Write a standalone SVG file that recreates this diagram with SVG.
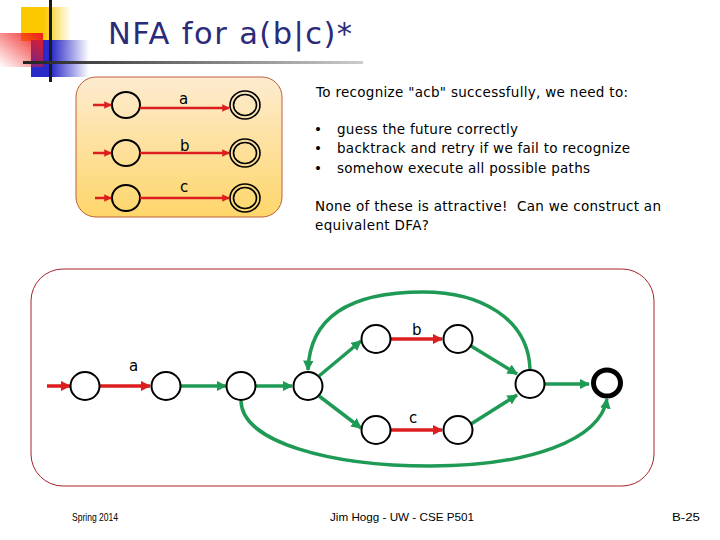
<svg xmlns="http://www.w3.org/2000/svg" width="720" height="540" viewBox="0 0 720 540">
<defs>
<style>
.st{fill:none;stroke:#000;stroke-width:2}
.fin{fill:none;stroke:#000;stroke-width:5}
.r{fill:none;stroke:#dd1e1e;stroke-width:3.5}
.g{fill:none;stroke:#1f9a55;stroke-width:3.5}
.lbl{font-family:"DejaVu Sans",Verdana,sans-serif;font-size:15px;fill:#000}
.tx{font-family:"DejaVu Sans",Verdana,sans-serif;font-size:13.5px;fill:#000}
.ft{font-family:"Liberation Sans",Arial,sans-serif;font-size:11px;fill:#000}
</style>
<marker id="ar" viewBox="0 0 10 10" refX="9" refY="5" markerWidth="3" markerHeight="3" orient="auto"><path d="M0,0 L10,5 L0,10 z" fill="#dd1e1e"/></marker>
<marker id="ag" viewBox="0 0 10 10" refX="9" refY="5" markerWidth="3" markerHeight="3" orient="auto"><path d="M0,0 L10,5 L0,10 z" fill="#1f9a55"/></marker>
<linearGradient id="yel" x1="0" y1="0" x2="1" y2="0"><stop offset="0.45" stop-color="#fcc800"/><stop offset="1" stop-color="#fcc800" stop-opacity="0"/></linearGradient>
<linearGradient id="blu" x1="0" y1="0" x2="1" y2="0"><stop offset="0.35" stop-color="#2a2ac8"/><stop offset="1" stop-color="#2a2ac8" stop-opacity="0"/></linearGradient>
<linearGradient id="red" x1="1" y1="0" x2="0" y2="1"><stop offset="0" stop-color="#f01c1c"/><stop offset="1" stop-color="#f01c1c" stop-opacity="0"/></linearGradient>
<linearGradient id="hl" x1="0" y1="0" x2="1" y2="0"><stop offset="0" stop-color="#222"/><stop offset="1" stop-color="#ccc"/></linearGradient>
<linearGradient id="pan" x1="0" y1="0" x2="0" y2="1"><stop offset="0" stop-color="#fdebd0"/><stop offset="1" stop-color="#fed66a"/></linearGradient>
</defs>

<g id="logo">
<rect x="21" y="7" width="50" height="34" fill="url(#yel)"/>
<rect x="31" y="40" width="58" height="37" fill="url(#blu)"/>
<rect x="0" y="33" width="43" height="34" fill="url(#red)"/>
<rect x="49" y="0" width="3" height="82" fill="#1a1a1a"/>
<rect x="23" y="61" width="340" height="3" fill="url(#hl)"/>
</g>
<text x="108" y="44" font-family="DejaVu Sans,Verdana,sans-serif" font-size="30.5" fill="#2b2b7a" textLength="244">NFA for a(b|c)*</text>

<g id="panel">
<rect x="76" y="77" width="206" height="140" rx="20" fill="url(#pan)" stroke="#c0603a" stroke-width="1"/>
</g>
<g id="p-nodes">
<ellipse cx="126" cy="105" rx="14" ry="13" fill="none" stroke="#000" stroke-width="2"/>
<ellipse cx="126" cy="153" rx="14" ry="13" fill="none" stroke="#000" stroke-width="2"/>
<ellipse cx="126" cy="198" rx="14" ry="13" fill="none" stroke="#000" stroke-width="2"/>
<g fill="none" stroke="#000" stroke-width="1.6">
<ellipse cx="245" cy="105" rx="15" ry="14"/><ellipse cx="245" cy="105" rx="11.5" ry="10.5"/>
<ellipse cx="245" cy="153" rx="15" ry="14"/><ellipse cx="245" cy="153" rx="11.5" ry="10.5"/>
<ellipse cx="245" cy="198" rx="15" ry="14"/><ellipse cx="245" cy="198" rx="11.5" ry="10.5"/>
</g>
</g>
<g id="p-edges" stroke="#dd1e1e" stroke-width="2.5" fill="none">
<path d="M93,105 L111,105" marker-end="url(#ar)"/>
<path d="M140,108 L229,108" marker-end="url(#ar)"/>
<path d="M93,153 L111,153" marker-end="url(#ar)"/>
<path d="M140,153 L229,153" marker-end="url(#ar)"/>
<path d="M95,198 L111,198" marker-end="url(#ar)"/>
<path d="M140,198 L229,198" marker-end="url(#ar)"/>
</g>
<text class="lbl" x="179" y="104">a</text>
<text class="lbl" x="180" y="151">b</text>
<text class="lbl" x="180" y="192">c</text>

<g id="text">
<text class="tx" x="316" y="97" textLength="312">To recognize "acb" successfully, we need to:</text>
<text class="tx" x="314" y="134" font-size="9">•</text>
<text class="tx" x="314" y="153" font-size="9">•</text>
<text class="tx" x="314" y="173" font-size="9">•</text>
<text class="tx" x="337" y="134" textLength="181">guess the future correctly</text>
<text class="tx" x="337" y="153" textLength="293">backtrack and retry if we fail to recognize</text>
<text class="tx" x="337" y="173" textLength="253">somehow execute all possible paths</text>
<text class="tx" x="315" y="211" textLength="346" xml:space="preserve">None of these is attractive!  Can we construct an</text>
<text class="tx" x="315" y="230" textLength="114">equivalent DFA?</text>
</g>

<g id="frame">
<rect x="31" y="269" width="623" height="217" rx="32" fill="#fff" stroke="#a8202a" stroke-width="1"/>
</g>

<g id="connectors" fill="none">
<path class="r" d="M47,386 L70,386" marker-end="url(#ar)"/>
<path class="r" d="M100,386 L150,386" marker-end="url(#ar)"/>
<path class="g" d="M181,386 L226,386" marker-end="url(#ag)"/>
<path class="g" d="M256,386 L292,386" marker-end="url(#ag)"/>
<path class="g" d="M319,376 L361,341" marker-end="url(#ag)"/>
<path class="g" d="M319,396 L361,428" marker-end="url(#ag)"/>
<path class="r" d="M391,339 L442,339" marker-end="url(#ar)"/>
<path class="r" d="M391,430 L442,430" marker-end="url(#ar)"/>
<path class="g" d="M471,346 L517,374" marker-end="url(#ag)"/>
<path class="g" d="M471,424 L517,395" marker-end="url(#ag)"/>
<path class="g" d="M545,384 L589,384" marker-end="url(#ag)"/>
<path class="g" d="M530,369 C528,318 480,292 423,292 C360,292 310,310 308,370" marker-end="url(#ag)"/>
<path class="g" d="M241,401 C242,442 330,466 430,466 C530,466 600,440 607,399" marker-end="url(#ag)"/>
</g>
<text class="lbl" x="129" y="371">a</text>
<text class="lbl" x="412" y="335">b</text>
<text class="lbl" x="409" y="423">c</text>

<g id="n0"><ellipse class="st" cx="85" cy="386" rx="14.5" ry="14"/></g>
<g id="n1"><ellipse class="st" cx="166" cy="386" rx="14.5" ry="14"/></g>
<g id="n2"><ellipse class="st" cx="241" cy="386" rx="14.5" ry="14"/></g>
<g id="n3"><ellipse class="st" cx="308" cy="386" rx="14.5" ry="14"/></g>
<g id="n4"><ellipse class="st" cx="376" cy="339" rx="14.5" ry="14"/></g>
<g id="n5"><ellipse class="st" cx="458" cy="339" rx="14.5" ry="14"/></g>
<g id="n6"><ellipse class="st" cx="376" cy="430" rx="14.5" ry="14"/></g>
<g id="n7"><ellipse class="st" cx="458" cy="430" rx="14.5" ry="14"/></g>
<g id="n8"><ellipse class="st" cx="530" cy="384" rx="14.5" ry="14"/></g>
<g id="n9"><ellipse class="fin" cx="607" cy="383" rx="13.5" ry="13"/></g>

<g id="footer">
<text class="ft" x="72" y="521" textLength="46" lengthAdjust="spacingAndGlyphs">Spring 2014</text>
<text class="ft" x="330" y="521" textLength="144" lengthAdjust="spacingAndGlyphs">Jim Hogg - UW - CSE P501</text>
<text class="ft" x="672" y="521" textLength="28" lengthAdjust="spacingAndGlyphs">B-25</text>
</g>
</svg>
